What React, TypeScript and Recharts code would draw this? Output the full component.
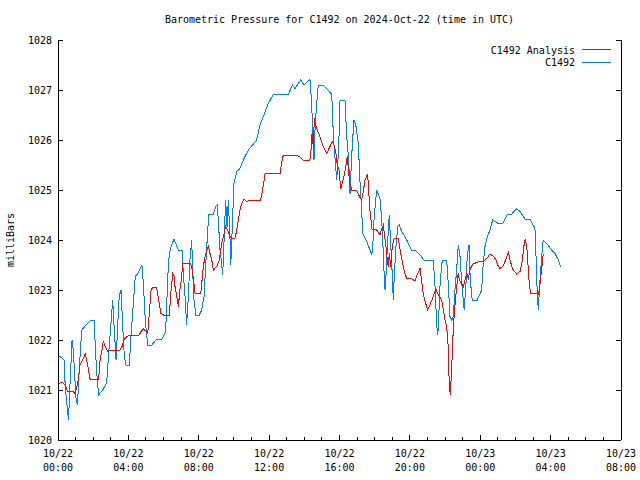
import React from 'react';
import { LineChart, Line, XAxis, YAxis, Legend } from 'recharts';

// hours since 2024-10-22 00:00 UTC, pressure in mb
const stationHours = [
  0.0, 0.36, 0.41, 0.55, 0.6, 0.68, 0.8, 0.87, 1.02, 1.11, 1.18, 1.31, 1.36, 1.59, 1.88, 2.06, 2.12, 2.2, 2.31, 2.54,
  2.77, 2.88, 3.01, 3.11, 3.2, 3.3, 3.39, 3.48, 3.58, 3.68, 3.77, 3.87, 4.05, 4.15, 4.28, 4.39, 4.53, 4.77, 4.85, 4.96,
  5.1, 5.34, 5.57, 5.91, 6.08, 6.18, 6.21, 6.33, 6.46, 6.59, 6.84, 7.06, 7.12, 7.22, 7.28, 7.31, 7.41, 7.5, 7.6, 7.66,
  7.73, 7.84, 8.03, 8.17, 8.3, 8.39, 8.49, 8.57, 8.83, 8.98, 9.05, 9.11, 9.21, 9.3, 9.36, 9.44, 9.53, 9.61, 9.68, 9.78,
  9.82, 9.93, 10.0, 10.16, 10.34, 10.53, 10.82, 11.29, 11.48, 11.67, 11.95, 12.24, 13.09, 13.32, 13.47, 13.79, 13.98, 14.32, 14.42, 14.48,
  14.55, 14.62, 14.79, 15.08, 15.27, 15.52, 15.59, 15.65, 15.74, 15.84, 15.95, 16.03, 16.31, 16.41, 16.52, 16.6, 16.69, 16.82, 16.94, 17.07,
  17.16, 17.26, 17.32, 17.55, 17.73, 17.83, 17.89, 17.96, 18.11, 18.3, 18.4, 18.49, 18.55, 18.59, 18.64, 18.72, 18.83, 18.87, 18.97, 19.06,
  19.11, 19.21, 19.31, 19.4, 19.54, 19.82, 20.1, 20.29, 20.58, 20.8, 21.33, 21.43, 21.52, 21.58, 21.62, 21.71, 21.81, 21.87, 22.09, 22.18,
  22.28, 22.38, 22.47, 22.56, 22.66, 22.75, 22.85, 22.95, 23.09, 23.19, 23.26, 23.36, 23.42, 23.51, 23.57, 23.83, 24.08, 24.17, 24.27, 24.37,
  24.55, 24.71, 24.84, 25.07, 25.28, 25.54, 25.79, 26.07, 26.26, 26.54, 26.83, 27.01, 27.11, 27.17, 27.21, 27.3, 27.36, 27.49, 27.58, 27.78,
  28.06, 28.25, 28.44, 28.57,
];
const stationMb = [
  1021.7, 1021.6, 1021.05, 1020.57, 1020.4, 1021.1, 1022.0, 1021.8, 1020.85, 1020.7, 1021.25, 1022.0, 1022.2, 1022.3, 1022.4, 1022.4, 1021.85, 1021.35, 1020.9, 1021.0,
  1021.15, 1021.73, 1022.33, 1022.8, 1022.2, 1021.6, 1022.27, 1022.87, 1023.0, 1022.27, 1021.67, 1021.5, 1021.5, 1022.07, 1022.73, 1023.27, 1023.33, 1023.5, 1023.13, 1022.4,
  1021.9, 1021.9, 1022.0, 1022.02, 1022.13, 1022.53, 1023.13, 1023.73, 1023.9, 1024.02, 1023.8, 1023.8, 1023.33, 1022.87, 1022.5, 1022.3, 1022.87, 1023.6, 1024.0, 1023.33,
  1022.8, 1022.5, 1022.5, 1022.6, 1022.87, 1023.47, 1024.07, 1024.52, 1024.52, 1024.68, 1024.7, 1024.4, 1023.8, 1023.53, 1023.3, 1024.0, 1024.8, 1024.27, 1024.8, 1024.0,
  1023.5, 1024.47, 1025.13, 1025.37, 1025.43, 1025.6, 1025.8, 1026.0, 1026.3, 1026.47, 1026.73, 1026.91, 1026.91, 1027.1, 1027.03, 1027.2, 1027.1, 1027.21, 1026.73, 1026.07,
  1025.6, 1026.33, 1027.1, 1027.1, 1027.03, 1026.93, 1026.73, 1026.07, 1025.67, 1025.2, 1025.8, 1026.8, 1026.8, 1026.07, 1025.6, 1024.93, 1025.67, 1026.4, 1026.27, 1025.93,
  1025.2, 1024.6, 1024.13, 1023.97, 1023.8, 1023.7, 1023.87, 1024.4, 1025.0, 1024.83, 1024.4, 1023.73, 1023.2, 1023.0, 1023.27, 1023.87, 1024.5, 1024.2, 1023.53, 1022.8,
  1023.27, 1023.87, 1024.27, 1024.3, 1024.17, 1024.0, 1023.8, 1023.8, 1023.7, 1023.6, 1023.6, 1023.07, 1022.33, 1022.1, 1022.27, 1023.07, 1023.53, 1023.6, 1023.6, 1023.13,
  1022.47, 1022.4, 1022.47, 1023.0, 1023.4, 1023.9, 1023.67, 1023.13, 1022.6, 1023.13, 1023.67, 1023.9, 1023.33, 1022.87, 1022.8, 1022.8, 1023.0, 1023.53, 1023.87, 1024.03,
  1024.2, 1024.4, 1024.37, 1024.32, 1024.33, 1024.52, 1024.52, 1024.62, 1024.57, 1024.42, 1024.42, 1024.3, 1024.23, 1023.67, 1023.2, 1022.6, 1023.0, 1023.67, 1024.0, 1023.93,
  1023.8, 1023.73, 1023.6, 1023.47,
];

const analysisHours = [
  0.0, 0.27, 0.41, 0.55, 0.84, 0.98, 1.08, 1.18, 1.25, 1.4, 1.55, 1.69, 1.82, 1.93, 2.31, 2.39, 2.5, 2.57, 2.69, 2.82,
  3.01, 3.52, 3.64, 3.77, 3.96, 4.62, 4.72, 4.85, 5.0, 5.1, 5.19, 5.29, 5.38, 5.61, 5.72, 5.85, 5.99, 6.33, 6.41, 6.52,
  6.59, 6.65, 6.75, 6.84, 6.93, 7.03, 7.09, 7.5, 7.6, 7.66, 7.73, 7.79, 8.11, 8.17, 8.26, 8.36, 8.49, 8.54, 8.64, 8.74,
  8.83, 9.02, 9.17, 9.3, 9.44, 9.53, 9.65, 9.78, 9.87, 10.06, 10.16, 10.25, 10.34, 10.44, 10.57, 10.73, 10.91, 11.52, 11.63, 11.77,
  12.62, 12.77, 12.9, 13.53, 13.71, 13.94, 14.32, 14.38, 14.44, 14.51, 14.57, 14.62, 14.74, 14.89, 15.04, 15.27, 15.46, 15.59, 15.69, 15.8,
  15.87, 15.97, 16.07, 16.18, 16.31, 16.44, 16.56, 16.69, 16.98, 17.13, 17.26, 17.35, 17.45, 17.6, 17.68, 17.73, 17.79, 17.85, 18.11, 18.3,
  18.4, 18.49, 18.55, 18.64, 18.72, 18.77, 18.83, 18.91, 19.0, 19.1, 19.34, 19.48, 19.59, 19.68, 19.82, 20.1, 20.29, 20.44, 20.58, 20.67,
  20.76, 20.9, 21.01, 21.14, 21.33, 21.48, 21.58, 21.67, 21.81, 21.9, 22.0, 22.09, 22.18, 22.24, 22.3, 22.38, 22.43, 22.47, 22.56, 22.66,
  22.75, 22.81, 22.95, 23.04, 23.13, 23.23, 23.32, 23.42, 23.51, 23.6, 23.94, 24.17, 24.37, 24.55, 24.74, 24.9, 25.03, 25.12, 25.28, 25.41,
  25.6, 25.69, 25.84, 26.07, 26.26, 26.35, 26.45, 26.5, 26.56, 26.64, 26.69, 26.75, 26.86, 27.21, 27.27, 27.32, 27.4, 27.46, 27.52, 27.58,
];
const analysisMb = [
  1021.13, 1021.15, 1021.1, 1020.97, 1020.97, 1020.93, 1021.07, 1021.27, 1021.5, 1021.6, 1021.72, 1021.5, 1021.23, 1021.2, 1021.22, 1021.6, 1021.8, 1021.97, 1021.87, 1021.77,
  1021.8, 1021.8, 1021.87, 1022.02, 1022.08, 1022.1, 1022.17, 1022.22, 1022.18, 1022.13, 1022.53, 1023.0, 1023.05, 1023.05, 1022.8, 1022.53, 1022.5, 1022.5, 1022.93, 1023.33,
  1023.3, 1023.07, 1022.87, 1022.67, 1023.0, 1023.27, 1023.53, 1023.53, 1023.47, 1023.33, 1023.13, 1022.93, 1022.92, 1023.13, 1023.47, 1023.67, 1023.83, 1023.88, 1023.73, 1023.6,
  1023.4, 1023.47, 1023.6, 1023.93, 1024.13, 1024.27, 1024.2, 1024.07, 1024.03, 1024.03, 1024.2, 1024.4, 1024.6, 1024.73, 1024.82, 1024.77, 1024.8, 1024.8, 1025.0, 1025.33,
  1025.33, 1025.67, 1025.7, 1025.7, 1025.67, 1025.6, 1025.6, 1025.8, 1026.13, 1025.87, 1026.43, 1026.33, 1026.2, 1026.07, 1025.9, 1025.73, 1025.87, 1025.97, 1025.9, 1025.73,
  1025.5, 1025.4, 1025.03, 1025.17, 1025.37, 1025.67, 1025.2, 1025.0, 1025.0, 1024.87, 1024.8, 1024.97, 1025.2, 1025.32, 1024.87, 1024.6, 1024.4, 1024.22, 1024.2, 1024.1,
  1024.23, 1024.3, 1024.13, 1023.87, 1023.6, 1023.47, 1023.73, 1023.47, 1023.87, 1024.03, 1024.03, 1023.73, 1023.53, 1023.37, 1023.23, 1023.23, 1023.18, 1023.33, 1023.43, 1023.17,
  1022.93, 1022.73, 1022.6, 1022.7, 1022.87, 1023.03, 1022.93, 1022.87, 1022.8, 1022.6, 1022.4, 1022.27, 1021.87, 1021.07, 1020.9, 1021.47, 1021.87, 1022.27, 1022.67, 1023.07,
  1023.33, 1023.2, 1023.13, 1023.07, 1023.2, 1023.33, 1023.23, 1023.4, 1023.48, 1023.52, 1023.57, 1023.57, 1023.63, 1023.72, 1023.68, 1023.6, 1023.47, 1023.43, 1023.47, 1023.57,
  1023.75, 1023.6, 1023.42, 1023.32, 1023.37, 1023.5, 1023.77, 1023.93, 1024.02, 1023.87, 1023.67, 1023.27, 1022.93, 1022.92, 1023.0, 1022.9, 1023.13, 1023.33, 1023.5, 1023.73,
];

const hourTicks = Array.from({ length: 33 }, (_, i) => i);
const labelHours = [0, 4, 8, 12, 16, 20, 24, 28, 32];
const labelDates = ['10/22', '10/22', '10/22', '10/22', '10/22', '10/22', '10/23', '10/23', '10/23'];
const labelTimes = ['00:00', '04:00', '08:00', '12:00', '16:00', '20:00', '00:00', '04:00', '08:00'];
const pressureTicks = [1020, 1021, 1022, 1023, 1024, 1025, 1026, 1027, 1028];

const FONT = '"DejaVu Sans Mono", "Liberation Mono", monospace';
const BLUE = '#0080ff';
const RED = '#ff0000';

const stationData = stationHours.map((t, i) => ({ t, v: stationMb[i] }));
const analysisData = analysisHours.map((t, i) => ({ t, v: analysisMb[i] }));

const BottomTick = (props: any) => {
  const { x, y, payload } = props;
  const idx = labelHours.indexOf(payload.value);
  const len = idx >= 0 ? 5 : 3;
  return (
    <g>
      <line x1={x} x2={x} y1={y} y2={y - len} stroke="#000" shapeRendering="crispEdges" />
      {idx >= 0 && (
        <text x={x} y={y} textAnchor="middle" fontFamily={FONT} fontSize={10} fill="#000">
          <tspan x={x} dy={17}>{labelDates[idx]}</tspan>
          <tspan x={x} dy={14}>{labelTimes[idx]}</tspan>
        </text>
      )}
    </g>
  );
};

const TopTick = (props: any) => {
  const { x, y, payload } = props;
  const len = labelHours.includes(payload.value) ? 5 : 3;
  return <line x1={x} x2={x} y1={y} y2={y + len} stroke="#000" shapeRendering="crispEdges" />;
};

const LeftTick = (props: any) => {
  const { x, y, payload } = props;
  return (
    <g>
      <line x1={x} x2={x + 5} y1={y} y2={y} stroke="#000" shapeRendering="crispEdges" />
      <text x={x - 6} y={y + 3.5} textAnchor="end" fontFamily={FONT} fontSize={10} fill="#000">
        {payload.value}
      </text>
    </g>
  );
};

const RightTick = (props: any) => {
  const { x, y } = props;
  return <line x1={x} x2={x - 5} y1={y} y2={y} stroke="#000" shapeRendering="crispEdges" />;
};

const LegendBox = (props: any) => {
  const items = [...(props.payload || [])].reverse();
  return (
    <div style={{ position: 'absolute', right: 0, top: 0, fontFamily: FONT, fontSize: 10, whiteSpace: 'nowrap' }}>
      {items.map((it: any) => (
        <div key={it.value} style={{ display: 'flex', justifyContent: 'flex-end', alignItems: 'center', height: 12.5 }}>
          <span>{it.value}</span>
          <svg width={36} height={4}>
            <line x1={7} x2={36} y1={1.5} y2={1.5} stroke={it.color} strokeWidth={1} shapeRendering="crispEdges" />
          </svg>
        </div>
      ))}
    </div>
  );
};

const YLabel = (props: any) => {
  const { viewBox } = props;
  const cx = 14;
  const cy = viewBox.y + viewBox.height / 2;
  return (
    <text x={cx} y={cy} transform={`rotate(-90, ${cx}, ${cy})`} textAnchor="middle" fontFamily={FONT} fontSize={10} fill="#000">
      milliBars
    </text>
  );
};

export default function App() {
  return (
    <div style={{ position: 'absolute', left: 0, top: 0, width: 640, height: 480, background: '#fff' }}>
      <div
        style={{
          position: 'absolute', left: 58, top: 13, width: 563, textAlign: 'center',
          fontFamily: FONT, fontSize: 10, lineHeight: '14px', zIndex: 1,
        }}
      >
        Barometric Pressure for C1492 on 2024-Oct-22 (time in UTC)
      </div>
      <LineChart width={640} height={480} margin={{ top: 40, right: 0, bottom: 0, left: 0 }}>
        <XAxis
          xAxisId="b" type="number" dataKey="t" domain={[0, 32]} ticks={hourTicks} interval={0}
          height={40} tickSize={0} tickMargin={0} tickLine={false} tick={<BottomTick />}
          axisLine={{ stroke: '#000', shapeRendering: 'crispEdges' }} allowDataOverflow
        />
        <XAxis
          xAxisId="top" orientation="top" type="number" dataKey="t" domain={[0, 32]} ticks={hourTicks} interval={0}
          height={0} tickSize={0} tickMargin={0} tickLine={false} tick={<TopTick />}
          axisLine={{ stroke: '#000', shapeRendering: 'crispEdges' }} allowDataOverflow
        />
        <YAxis
          yAxisId="l" type="number" domain={[1020, 1028]} ticks={pressureTicks} interval={0}
          width={58} tickSize={0} tickMargin={0} tickLine={false} tick={<LeftTick />}
          axisLine={{ stroke: '#000', shapeRendering: 'crispEdges' }} label={<YLabel />} allowDataOverflow
        />
        <YAxis
          yAxisId="r" orientation="right" type="number" domain={[1020, 1028]} ticks={pressureTicks} interval={0}
          width={19} tickSize={0} tickMargin={0} tickLine={false} tick={<RightTick />}
          axisLine={{ stroke: '#000', shapeRendering: 'crispEdges' }} allowDataOverflow
        />
        <Legend content={<LegendBox />} wrapperStyle={{ left: 611, top: 44, width: 0, height: 0 }} />
        <Line
          xAxisId="b" yAxisId="l" data={stationData} dataKey="v" name="C1492" type="linear"
          stroke={BLUE} strokeWidth={1} dot={false} isAnimationActive={false} shapeRendering="crispEdges"
        />
        <Line
          xAxisId="b" yAxisId="l" data={analysisData} dataKey="v" name="C1492 Analysis" type="linear"
          stroke={RED} strokeWidth={1} dot={false} isAnimationActive={false} shapeRendering="crispEdges"
        />
      </LineChart>
    </div>
  );
}
